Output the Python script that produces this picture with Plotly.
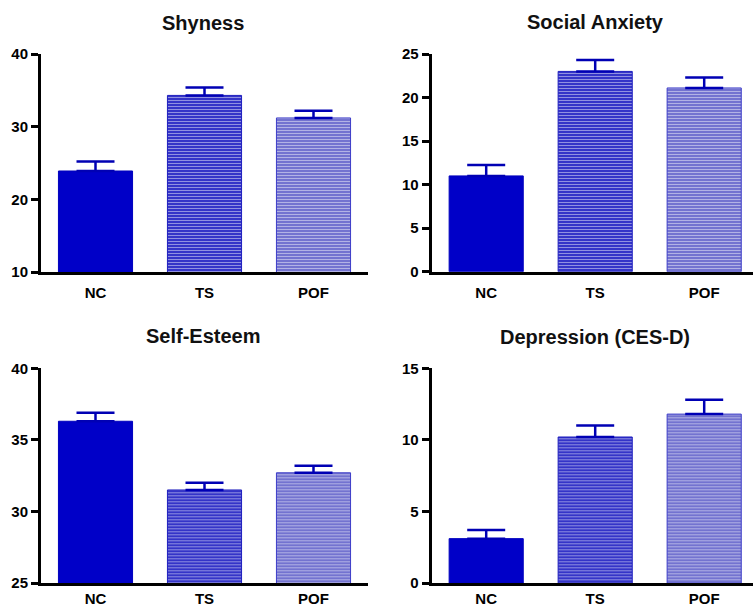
import plotly.graph_objects as go

categories = ["NC", "TS", "POF"]

shyness = [23.9, 34.3, 31.2]
shyness_err = [1.3, 1.1, 1.0]

social_anxiety = [11.0, 23.0, 21.1]
social_anxiety_err = [1.25, 1.3, 1.2]

self_esteem = [36.3, 31.5, 32.7]
self_esteem_err = [0.6, 0.5, 0.5]

depression = [3.1, 10.2, 11.8]
depression_err = [0.6, 0.8, 1.0]

panels = [
    ("Shyness", shyness, shyness_err, [10, 40], [10, 20, 30, 40]),
    ("Social Anxiety", social_anxiety, social_anxiety_err, [0, 25], [0, 5, 10, 15, 20, 25]),
    ("Self-Esteem", self_esteem, self_esteem_err, [25, 40], [25, 30, 35, 40]),
    ("Depression (CES-D)", depression, depression_err, [0, 15], [0, 5, 10, 15]),
]

W, H = 753, 607
# pixel geometry of each panel: (x0, x1, ytop, ybottom)
geom = [
    (41, 368, 54, 272),
    (431.7, 753, 54, 271.7),
    (41, 368, 368.3, 583),
    (431.7, 753, 368.3, 583),
]
title_y = [23, 22, 336, 336.5]
title_x = [203, 595, 203, 595]
label_standoff = [5, 5, 0, 0]

bar_colors = ["rgb(0,0,200)", "rgb(52,52,200)", "rgb(115,115,208)"]
pattern_fg = ["rgb(0,0,200)", "rgb(78,78,212)", "rgb(140,140,222)"]
pattern_shape = ["", "-", "-"]
line_colors = ["rgb(0,0,190)", "rgb(30,30,190)", "rgb(60,60,200)"]

fig = go.Figure()
font_family = "Arial, Liberation Sans, Helvetica, sans-serif"

for i, (title, vals, errs, yr, tv) in enumerate(panels):
    n = "" if i == 0 else str(i + 1)
    x0, x1, yt, yb = geom[i]
    fig.add_trace(go.Bar(
        x=categories, y=vals,
        xaxis="x" + n, yaxis="y" + n,
        width=0.68,
        marker=dict(
            color=bar_colors,
            line=dict(color=line_colors, width=1),
            pattern=dict(shape=pattern_shape, fgcolor=pattern_fg, bgcolor=bar_colors,
                         size=3, solidity=0.3),
        ),
        error_y=dict(type="data", array=errs, arrayminus=[0] * len(errs), symmetric=False,
                     color="rgb(0,0,180)", thickness=2.5, width=19),
        showlegend=False,
    ))
    span_px = x1 - x0
    xrange_end = -0.5 + span_px / 109.0
    fig.update_layout(**{
        "xaxis" + n: dict(
            domain=[x0 / W, x1 / W], anchor="y" + n,
            type="category", range=[-0.5, xrange_end],
            showline=True, linecolor="black", linewidth=3,
            ticks="", showgrid=False, zeroline=False, automargin=False,
            tickfont=dict(family=font_family, size=15, color="black", weight="bold"),
            ticklabelstandoff=label_standoff[i],
        ),
        "yaxis" + n: dict(
            domain=[1 - yb / H, 1 - yt / H], anchor="x" + n,
            range=yr, tickvals=tv,
            showline=True, linecolor="black", linewidth=3,
            ticks="outside", ticklen=7, tickwidth=2.5, tickcolor="black",
            showgrid=False, zeroline=False, automargin=False,
            tickfont=dict(family=font_family, size=15, color="black", weight="bold"),
        ),
    })
    fig.add_annotation(
        text=title, x=title_x[i] / W,
        y=1 - title_y[i] / H, xref="paper", yref="paper",
        showarrow=False, xanchor="center", yanchor="middle",
        font=dict(family=font_family, size=20, color="#111111", weight="bold"),
    )

fig.update_layout(
    width=W, height=H,
    margin=dict(l=0, r=0, t=0, b=0),
    paper_bgcolor="white", plot_bgcolor="white",
    bargap=0.3,
)

fig.write_html("out.html",
               config={"displayModeBar": False},
               post_script="document.body.style.margin='0px';document.body.style.overflow='hidden';")
